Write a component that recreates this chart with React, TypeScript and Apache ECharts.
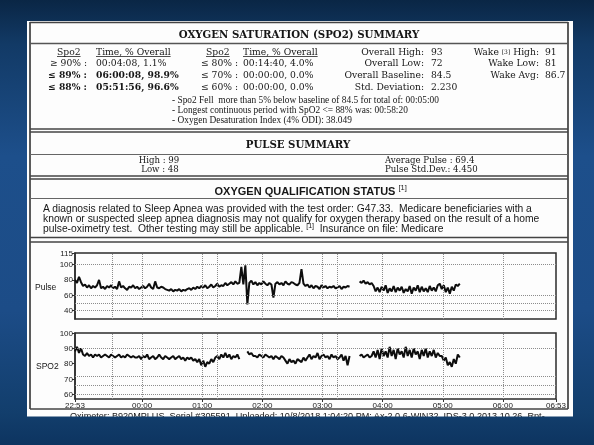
import React, { useEffect, useRef } from 'react';
import * as echarts from 'echarts';

// ---------- data ----------
const startTime = '22:53';
const sampleStepMin = 2;
const timeTickLabels = ['22:53', '00:00', '01:00', '02:00', '03:00', '04:00', '05:00', '06:00', '06:53'];
const hourLineLabels = ['00:00', '01:00', '02:00', '03:00', '04:00', '05:00', '06:00'];
const eventLineLabels = ['23:30', '01:15', '03:15'];
const pulseTickLabels = [40, 60, 80, 100, 115];
const spo2TickLabels = [60, 70, 80, 90, 100];
const pulseGuideValues = [100, 60, 50, 40];
const spo2GuideValues = [90, 72, 66, 60];

// pulse (bpm), one reading every 2 min from 22:53
const pulseValues: (number | null)[] = [
  80, 76, 84, 77, 72, 74, 70, 73, 69, 72,
  70, 73, 80, 69, 71, 68, 72, 70, 73, 69,
  71, 68, 78, 70, 72, 69, 67, 71, 70, 73,
  69, 71, 68, 70, 72, 69, 71, 75, 70, 68,
  78, 70, 69, 71, 70, 68, 67, 66, 68, 65,
  67, 66, 68, 65, 67, 66, 68, 69, 67, 70,
  68, 71, 69, 72, 70, 73, 69, 71, 74, 70,
  72, 75, 71, 73, 72, 76, 73, 75, 77, 74,
  78, 75, 76, 97, 74, 99, 48, 76, 79, 74,
  77, 73, 76, 74, 78, 75, 73, 76, 74, 57,
  75, 77, 74, 76, 73, 78, 75, 74, 77, 76,
  74, 73, 76, 94, 75, 72, 74, 70, 73, 69,
  72, 71, 68, 73, 70, 72, 69, 71, 70, 72,
  69, 70, 72, 68, 71, 70, 72, 71, null, null,
  null, null, 78, 76, 79, 75, 77, 74, 76, 72,
  65, 70, 64, 71, 66, 73, 63, 69, 65, 72,
  64, 70, 66, 71, 63, 68, 65, 72, 62, 70,
  66, 73, 64, 71, 65, 69, 64, 72, 66, 70,
  65, 73, 75, 68, 73, 64, 70, 62, 71, 66,
  74, 72, 75,
];

// SpO2 (%), one reading every 2 min from 22:53
const spo2Values: (number | null)[] = [
  88, 91, 87, 90, 86, 85, 87, 85, 86, 84,
  86, 85, 86, 84, 85, 86, 85, 84, 86, 85,
  84, 85, 86, 84, 85, 84, 86, 85, 84, 85,
  84, 84, 85, 83, 85, 84, 86, 83, 84, 85,
  83, 84, 86, 84, 83, 85, 84, 83, 84, 85,
  83, 84, 85, 83, 84, 82, 84, 83, 84, 82,
  83, 81, 83, 79, 82, 78, 81, 80, 83, 81,
  84, 85, 83, 86, 84, 87, 84, 86, 83, 85,
  84, 86, 83, null, null, null, 88, 86, 87, 85,
  85, 84, 86, 85, 84, 86, 85, 84, 85, 83,
  85, 84, 83, 85, 84, 82, 80, 83, 81, 82,
  80, 83, 82, 81, 84, 82, 84, 86, 83, 85,
  84, 87, 83, 85, 86, 84, 85, 83, 86, 84,
  85, 83, 84, 86, 82, 85, 79, 85, null, null,
  null, null, 85, 86, 84, 85, 86, 84, 85, 88,
  84, 89, 83, 90, 85, 88, 84, 91, 85, 89,
  83, 90, 86, 88, 84, 91, 85, 89, 84, 90,
  86, 88, 83, 89, 85, 90, 84, 88, 85, 89,
  84, 87, 85, 85, 82, 84, 79, 81, 78, 83,
  80, 86, 84,
];

// ---------- report texts ----------
const spo2Title = 'OXYGEN SATURATION (SPO2) SUMMARY';
const spo2Headers = ['Spo2', 'Time, % Overall'];
const spo2UpperRows = [
  ['≥ 90% :', '00:04:08, 1.1%'],
  ['≤ 89% :', '06:00:08, 98.9%'],
  ['≤ 88% :', '05:51:56, 96.6%'],
];
const spo2UpperBold = [false, true, true];
const spo2LowerRows = [
  ['≤ 80% :', '00:14:40, 4.0%'],
  ['≤ 70% :', '00:00:00, 0.0%'],
  ['≤ 60% :', '00:00:00, 0.0%'],
];
const overallStats = [
  ['Overall High:', '93'],
  ['Overall Low:', '72'],
  ['Overall Baseline:', '84.5'],
  ['Std. Deviation:', '2.230'],
];
const wakeStats = [
  ['Wake [3] High:', '91'],
  ['Wake Low:', '81'],
  ['Wake Avg:', '86.7'],
];
const spo2Bullets = [
  '- Spo2 Fell  more than 5% below baseline of 84.5 for total of: 00:05:00',
  '- Longest continuous period with SpO2 <= 88% was: 00:58:20',
  '- Oxygen Desaturation Index (4% ODI): 38.049',
];
const pulseTitle = 'PULSE SUMMARY';
const pulseLeft = ['High : 99', 'Low : 48'];
const pulseRight = ['Average Pulse : 69.4', 'Pulse Std.Dev.: 4.450'];
const qualTitle = 'OXYGEN QUALIFICATION STATUS';
const qualLines = [
  'A diagnosis related to Sleep Apnea was provided with the test order: G47.33.  Medicare beneficiaries with a',
  'known or suspected sleep apnea diagnosis may not qualify for oxygen therapy based on the result of a home',
];
const qualLast = ['pulse-oximetry test.  Other testing may still be applicable. ', '[1]', '  Insurance on file: Medicare'];
const footerText =
  'Oximeter: B920MPLUS  Serial #305591  Uploaded: 10/8/2018 1:04:20 PM; Ax-2.0.6-WIN32, IDS-3.0.2013.10.26, Rpt-';

// ---------- helpers ----------
const SERIF = '"DejaVu Serif", "Liberation Serif", serif';
const TIMES = '"Liberation Serif", "DejaVu Serif", serif';
const SANS = '"Liberation Sans", Arial, sans-serif';
const INK = '#161616';

const toMin = (t: string) => {
  const [h, m] = t.split(':').map(Number);
  return h * 60 + m;
};
const offsetOf = (t: string) => (toMin(t) - toMin(startTime) + 1440) % 1440;
const labelOf = (v: number) => {
  const m = (toMin(startTime) + Math.round(v)) % 1440;
  return `${String(Math.floor(m / 60)).padStart(2, '0')}:${String(m % 60).padStart(2, '0')}`;
};

const fnt = (size: number, weight = 'normal', family = SERIF) => `${weight} ${size}px ${family}`;

let measureCtx: CanvasRenderingContext2D | null = null;
const measure = (text: string, f: string) => {
  if (!measureCtx) measureCtx = document.createElement('canvas').getContext('2d');
  if (!measureCtx) return text.length * 5;
  measureCtx.font = f;
  return measureCtx.measureText(text).width;
};

const T = (text: string, x: number, y: number, f: string, align = 'left', extra: any = {}) => ({
  type: 'text',
  z: 20,
  silent: true,
  style: {
    text, x, y, font: f, fill: INK,
    align, verticalAlign: 'middle', textAlign: align, textVerticalAlign: 'middle',
    ...extra,
  },
});
const L = (x1: number, y1: number, x2: number, y2: number, w = 1.2, c = '#3a3a3a') => ({
  type: 'line',
  z: 15,
  silent: true,
  shape: { x1, y1, x2, y2 },
  style: { stroke: c, lineWidth: w },
});

const bgGradient = () => ({
  type: 'linear', x: 0, y: 0, x2: 0, y2: 445, global: true,
  colorStops: [
    { offset: 0, color: '#0a2645' },
    { offset: 0.1, color: '#123a66' },
    { offset: 0.35, color: '#1d4f8b' },
    { offset: 0.7, color: '#1c4c87' },
    { offset: 0.93, color: '#123e6c' },
    { offset: 1, color: '#0d3460' },
  ],
});

function buildGraphic() {
  const els: any[] = [];
  els.push({ type: 'rect', z: -20, silent: true, shape: { x: 0, y: 0, width: 594, height: 445 }, style: { fill: bgGradient() } });
  els.push({ type: 'rect', z: -19, silent: true, shape: { x: 27, y: 21, width: 546, height: 396 }, style: { fill: '#fdfdfd' } });

  // frame lines
  const FL = 30, FR = 568;
  els.push(L(FL, 22, FL, 409, 1.6, '#333'));
  els.push(L(FR, 22, FR, 409, 1.6, '#333'));
  els.push(L(FL, 22.5, FR, 22.5, 1.4, '#444'));
  els.push(L(FL, 43.5, FR, 43.5, 1.6, '#555'));
  els.push(L(FL, 129, FR, 129, 1.3, '#444'));
  els.push(L(FL, 132, FR, 132, 1.3, '#444'));
  els.push(L(FL, 154.5, FR, 154.5, 1.2, '#666'));
  els.push(L(FL, 176, FR, 176, 1.3, '#444'));
  els.push(L(FL, 179, FR, 179, 1.3, '#444'));
  els.push(L(FL, 198.5, FR, 198.5, 1.2, '#666'));
  els.push(L(FL, 237.5, FR, 237.5, 1.3, '#444'));
  els.push(L(FL, 242, FR, 242, 1.3, '#444'));
  els.push(L(FL, 409, FR, 409, 1.3, '#444'));

  // section 1
  els.push(T(spo2Title, 299, 34, fnt(10.2, 'bold'), 'center'));
  const f9 = fnt(9.2);
  const f9b = fnt(9.2, 'bold');
  const rowY = [51, 62.7, 74.3, 86];
  const hdrX = [[57, 96], [206, 243]];
  hdrX.forEach(([sx, tx]) => {
    els.push(T(spo2Headers[0], sx, rowY[0], f9));
    els.push(L(sx, rowY[0] + 5.5, sx + measure(spo2Headers[0], f9), rowY[0] + 5.5, 0.8, '#222'));
    els.push(T(spo2Headers[1], tx, rowY[0], f9));
    els.push(L(tx, rowY[0] + 5.5, tx + measure(spo2Headers[1], f9), rowY[0] + 5.5, 0.8, '#222'));
  });
  spo2UpperRows.forEach((r, i) => {
    const f = spo2UpperBold[i] ? f9b : f9;
    els.push(T(r[0], 87, rowY[i + 1], f, 'right'));
    els.push(T(r[1], 96, rowY[i + 1], f));
  });
  spo2LowerRows.forEach((r, i) => {
    els.push(T(r[0], 238, rowY[i + 1], f9, 'right'));
    els.push(T(r[1], 243, rowY[i + 1], f9));
  });
  overallStats.forEach((r, i) => {
    els.push(T(r[0], 424, rowY[i], f9, 'right'));
    els.push(T(r[1], 431, rowY[i], f9));
  });
  wakeStats.forEach((r, i) => {
    if (r[0].includes('[3]')) {
      const [a, b] = r[0].split('[3]');
      els.push(T(`{a|${a}}{b|[3]}{a|${b}}`, 539, rowY[i], f9, 'right', {
        rich: { a: { font: f9, fill: INK }, b: { font: fnt(6), fill: INK } },
      }));
    } else {
      els.push(T(r[0], 539, rowY[i], f9, 'right'));
    }
    els.push(T(r[1], 545, rowY[i], f9));
  });
  const bulletY = [100, 110, 120];
  spo2Bullets.forEach((b, i) => els.push(T(b, 172, bulletY[i], fnt(9.4, 'normal', TIMES))));

  // section 2
  const fp = fnt(8.6);
  els.push(T(pulseTitle, 298, 144, fnt(10.2, 'bold'), 'center'));
  els.push(T(pulseLeft[0], 159, 159.5, fp, 'center'));
  els.push(T(pulseLeft[1], 160, 168.8, fp, 'center'));
  els.push(T(pulseRight[0], 385, 159.5, fp));
  els.push(T(pulseRight[1], 385, 168.8, fp));

  // section 3
  const qf = fnt(11, 'bold', SANS);
  const qw = measure(qualTitle, qf);
  const qx = 305;
  els.push(T(qualTitle, qx, 190.5, qf, 'center'));
  els.push(T('[1]', qx + qw / 2 + 3, 187.5, fnt(7.5, 'normal', SANS)));
  const bf = fnt(10.3, 'normal', SANS);
  const sf = fnt(7, 'normal', SANS);
  const qx0 = 43;
  const qy = [208.3, 218.3, 228.3];
  qualLines.forEach((l, i) => els.push(T(l, qx0, qy[i], bf)));
  const w0 = measure(qualLast[0], bf);
  els.push(T(qualLast[0], qx0, qy[2], bf));
  els.push(T(qualLast[1], qx0 + w0, qy[2] - 2.5, sf));
  const w1 = measure(qualLast[1], sf);
  els.push(T(qualLast[2], qx0 + w0 + w1, qy[2], bf));

  // chart labels
  els.push(T('Pulse', 35, 287, fnt(8.5, 'normal', SANS)));
  els.push(T('SPO2', 36, 366, fnt(8.5, 'normal', SANS)));

  // footer (cut off by the page edge)
  els.push(T(footerText, 70, 416, fnt(9.1, 'normal', SANS)));
  els.push({ type: 'rect', z: 100, silent: true, shape: { x: 0, y: 416.5, width: 594, height: 30 }, style: { fill: bgGradient() } });
  return els;
}

function buildOption() {
  const tickOffsets = timeTickLabels.map(offsetOf);
  const vLines = [...hourLineLabels, ...eventLineLabels].map((t) => ({ xAxis: offsetOf(t) }));
  const toPoints = (arr: (number | null)[]) => arr.map((v, i) => [i * sampleStepMin, v === null ? '-' : v]);
  const guideStyle = { type: 'dotted', color: '#8c8c8c', width: 1 };

  const xBase = {
    type: 'value', min: 0, max: 480,
    axisLine: { show: false }, splitLine: { show: false },
  };
  const yBase = (min: number, max: number, ticks: number[]) => ({
    type: 'value', min, max,
    axisLine: { show: true, lineStyle: { color: '#2b2b2b', width: 1.5 } },
    axisTick: { show: true, customValues: ticks, length: 3, lineStyle: { color: '#333' } },
    axisLabel: { customValues: ticks, fontSize: 8, fontFamily: SANS, color: '#222', margin: 2 },
    splitLine: { show: false },
  });

  return {
    animation: false,
    graphic: { elements: buildGraphic() },
    grid: [
      { left: 75, top: 253, width: 481, height: 66, show: true, borderColor: '#2b2b2b', borderWidth: 1.5, backgroundColor: 'rgba(0,0,0,0)' },
      { left: 75, top: 333, width: 481, height: 66, show: true, borderColor: '#2b2b2b', borderWidth: 1.5, backgroundColor: 'rgba(0,0,0,0)' },
    ],
    xAxis: [
      { ...xBase, gridIndex: 0, axisTick: { show: false }, axisLabel: { show: false } },
      {
        ...xBase, gridIndex: 1,
        axisTick: { show: true, customValues: tickOffsets, length: 3, lineStyle: { color: '#333' } },
        axisLabel: { customValues: tickOffsets, formatter: (v: number) => labelOf(v), fontSize: 8, fontFamily: SANS, color: '#222', margin: 2 },
      },
    ],
    yAxis: [
      { ...yBase(29, 115, pulseTickLabels), gridIndex: 0 },
      { ...yBase(57, 100, spo2TickLabels), gridIndex: 1 },
    ],
    series: [
      {
        type: 'line', name: 'Pulse', xAxisIndex: 0, yAxisIndex: 0,
        data: toPoints(pulseValues), symbol: 'none', connectNulls: false,
        lineStyle: { color: '#0e0e0e', width: 2 },
        markLine: {
          silent: true, symbol: ['none', 'none'], label: { show: false }, lineStyle: guideStyle,
          data: [...vLines, ...pulseGuideValues.map((v) => ({ yAxis: v }))],
        },
      },
      {
        type: 'line', name: 'SPO2', xAxisIndex: 1, yAxisIndex: 1,
        data: toPoints(spo2Values), symbol: 'none', connectNulls: false,
        lineStyle: { color: '#0e0e0e', width: 2 },
        markLine: {
          silent: true, symbol: ['none', 'none'], label: { show: false }, lineStyle: guideStyle,
          data: [...vLines, ...spo2GuideValues.map((v) => ({ yAxis: v }))],
        },
      },
    ],
  };
}

export default function App() {
  const ref = useRef<HTMLDivElement>(null);
  useEffect(() => {
    if (!ref.current) return;
    const chart = echarts.init(ref.current, null, { renderer: 'svg' });
    chart.setOption(buildOption() as any);
    return () => chart.dispose();
  }, []);
  return <div ref={ref} style={{ position: 'fixed', left: 0, top: 0, width: 594, height: 445 }} />;
}
